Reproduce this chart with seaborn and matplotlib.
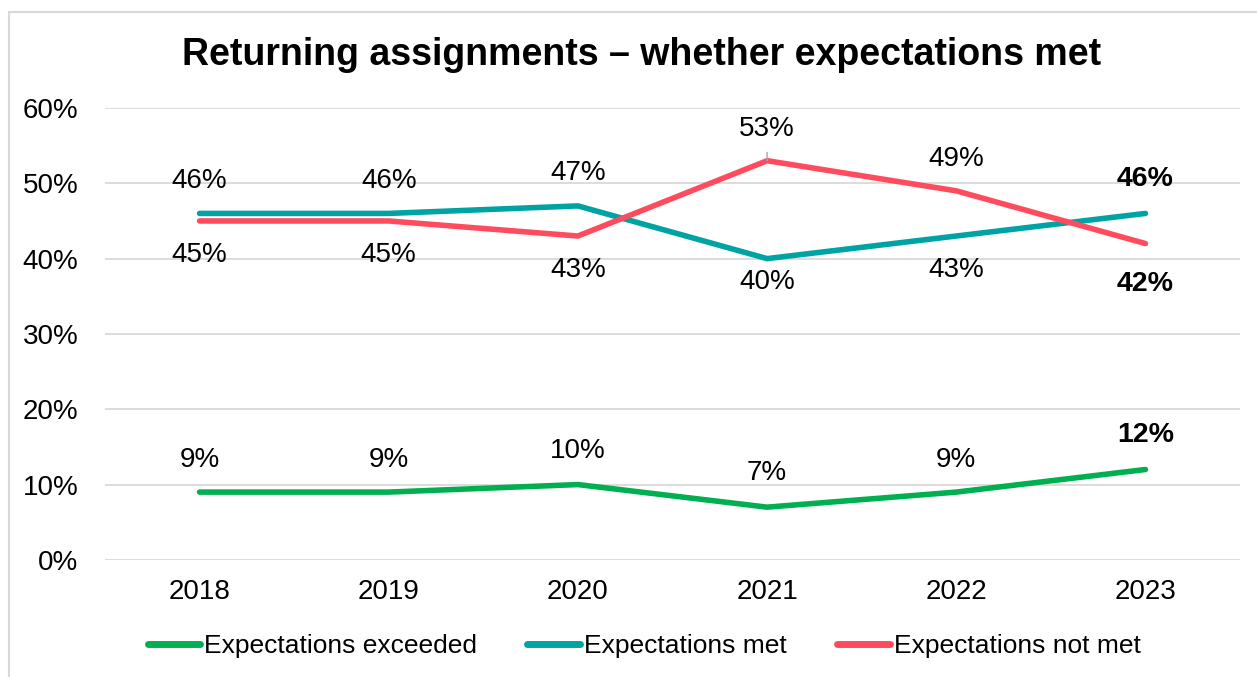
import matplotlib
matplotlib.use("Agg")
import matplotlib.pyplot as plt
from matplotlib.patches import Rectangle
import pandas as pd
import seaborn as sns

years = ["2018", "2019", "2020", "2021", "2022", "2023"]
exceeded = [9, 9, 10, 7, 9, 12]
met = [46, 46, 47, 40, 43, 46]
not_met = [45, 45, 43, 53, 49, 42]

series_names = ["Expectations exceeded", "Expectations met", "Expectations not met"]
palette = {
    "Expectations exceeded": "#00B050",
    "Expectations met": "#00A3A4",
    "Expectations not met": "#FF4B5E",
}

# data label offsets in points (positive = above the point)
exceeded_off = [23, 23, 24, 24.5, 23, 24.5]
met_off = [23, 23, 24, -16.5, -24.5, 25]
not_met_off = [-24.5, -24.5, -24.5, 23, 23, -29]

df = pd.DataFrame({
    "year": years * 3,
    "value": [v / 100 for v in exceeded + met + not_met],
    "series": [s for s in series_names for _ in years],
})

sns.set_style("white")
plt.rcParams["font.family"] = ["Liberation Sans", "DejaVu Sans"]
plt.rcParams["text.color"] = "black"
plt.rcParams["xtick.color"] = "black"
plt.rcParams["ytick.color"] = "black"

fig = plt.figure(figsize=(12.57, 6.77), dpi=100)
ax = fig.add_axes([0.0835, 0.173, 0.903, 0.6675])

sns.lineplot(data=df, x="year", y="value", hue="series", palette=palette,
             linewidth=4, ax=ax, sort=False, solid_capstyle="round")

ax.set_ylim(0, 0.6)
ax.set_xlim(-0.5, 5.5)
ax.set_yticks([0, 0.1, 0.2, 0.3, 0.4, 0.5, 0.6])
ax.set_yticklabels([f"{int(round(t * 100))}%" for t in ax.get_yticks()])
ax.yaxis.grid(True, color="#D9D9D9", linewidth=1.3)
ax.set_axisbelow(True)
for sp in ax.spines.values():
    sp.set_visible(False)
ax.tick_params(axis="both", length=0, labelsize=20, labelcolor="black")
ax.tick_params(axis="y", pad=19)
ax.tick_params(axis="x", pad=14)
ax.set_xlabel("")
ax.set_ylabel("")

for vals, offs in [(exceeded, exceeded_off), (met, met_off), (not_met, not_met_off)]:
    for i, (v, off) in enumerate(zip(vals, offs)):
        last = i == len(vals) - 1
        ax.annotate(f"{v}%", (i, v / 100), xytext=(0, off), textcoords="offset points",
                    ha="center", va="center", fontsize=20.5 if last else 20,
                    fontweight="bold" if last else "normal", color="black")

# small leader line for the 2021 peak
ax.annotate("", (3, 0.53), xytext=(0, 6), textcoords="offset points",
            arrowprops=dict(arrowstyle="-", color="#A6A6A6", lw=1, shrinkA=0, shrinkB=0))

fig.suptitle("Returning assignments \u2013 whether expectations met", fontsize=27,
             fontweight="bold", x=0.51, y=0.945, color="black")

handles, labels = ax.get_legend_handles_labels()
for h in handles:
    h.set_linewidth(5)
ax.legend(handles, labels, loc="center", bbox_to_anchor=(0.475, -0.19), ncol=3,
          frameon=False, fontsize=19, handlelength=2.0, handletextpad=0.15,
          columnspacing=1.9)

fig.add_artist(Rectangle((0.0072, -0.05), 1.1, 1.032, transform=fig.transFigure,
                         fill=False, edgecolor="#D9D9D9", linewidth=1.5))

fig.savefig("out.png", dpi=100)
